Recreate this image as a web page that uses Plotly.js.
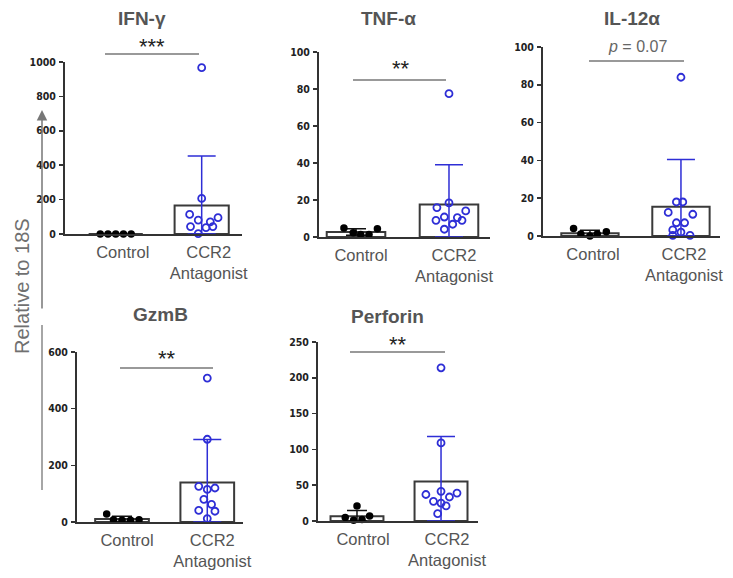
<!DOCTYPE html>
<html><head><meta charset="utf-8">
<script src="https://cdn.plot.ly/plotly-3.0.1.min.js"></script>
<style>html,body{margin:0;padding:0;background:#fff}#chart{width:733px;height:578px}</style>
</head><body><div id="chart"></div>
<script>
// ---------- DATA ----------
const categories = ["Control", "CCR2<br>Antagonist"];
const panelTitles = ["IFN-\u03b3", "TNF-\u03b1", "IL-12\u03b1", "GzmB", "Perforin"];
const sigLabels = ["***", "**", "<i>p</i> = 0.07", "**", "**"];
const yAxisTitle = "Relative to 18S";

// IFN-gamma
const ifnControl = [0, 0, 0, 0, 0];
const ifnControlJitter = [-0.18, -0.09, 0, 0.09, 0.18];
const ifnCCR2 = [967, 207, 114, 81, 71, 95, 43, 37, 43, 2];
const ifnCCR2Jitter = [0, 0, -0.14, -0.04, 0.1, 0.19, -0.13, 0.05, 0.13, -0.04];
const ifnMeans = [0, 166];
const ifnSD = [0, 287];

// TNF-alpha
const tnfControl = [4.9, 2.3, 1.3, 1.3, 4.5];
const tnfControlJitter = [-0.13, -0.03, 0.05, 0.14, 0.23];
const tnfCCR2 = [77.5, 18.4, 15.9, 14.1, 9, 10.8, 10.5, 9, 6.9, 4.2];
const tnfCCR2Jitter = [0, 0, -0.13, 0.18, -0.14, -0.05, 0.09, 0.14, 0.04, -0.05];
const tnfMeans = [2.7, 17.5];
const tnfSD = [1.8, 21.5];

// IL-12alpha
const il12Control = [4, 1, 0, 1, 2.3];
const il12ControlJitter = [-0.18, -0.1, 0, 0.08, 0.18];
const il12CCR2 = [84, 18, 18, 12.5, 11.5, 7, 7, 3.2, 2, 0.3, 0.3];
const il12CCR2Jitter = [0, -0.05, 0.02, -0.14, 0.13, -0.05, 0.04, -0.09, 0, -0.09, 0.1];
const il12Means = [1.4, 15.5];
const il12SD = [1.6, 25];

// GzmB
const gzmbControl = [28, 8, 6, 6, 8];
const gzmbControlJitter = [-0.18, -0.1, 0, 0.1, 0.2];
const gzmbCCR2 = [508, 292, 126, 115, 120, 80, 62, 41, 38, 12];
const gzmbCCR2Jitter = [0, 0, -0.1, 0, 0.09, -0.04, 0.05, -0.1, 0.09, 0];
const gzmbMeans = [11, 139];
const gzmbSD = [9.4, 152];

// Perforin
const perfControl = [21, 5, 1, 2, 7];
const perfControlJitter = [0, -0.14, -0.04, 0.06, 0.15];
const perfCCR2 = [214, 109, 41.5, 37, 39, 27.5, 33.5, 25, 21, 10.3];
const perfCCR2Jitter = [0, 0, 0, -0.18, 0.19, -0.09, 0.1, 0, 0.06, -0.04];
const perfMeans = [6.5, 55];
const perfSD = [8, 63];

const yMax = [1000, 100, 100, 600, 250];
const yStep = [200, 20, 20, 200, 50];

// ---------- LAYOUT CONFIG (pixels) ----------
const W = 733, H = 578;
const fx = x => x / W, fy = y => 1 - y / H;
const panels = [
  {data:[ifnControl, ifnControlJitter, ifnCCR2, ifnCCR2Jitter, ifnMeans, ifnSD],
   box:[65, 242, 62, 234], xr:[-0.59, 1.469], shift:7, title:[142, 19], sig:[152, 46], line:[105, 199, 54]},
  {data:[tnfControl, tnfControlJitter, tnfCCR2, tnfCCR2Jitter, tnfMeans, tnfSD],
   box:[319, 490, 52, 237], xr:[-0.398, 1.441], shift:5, title:[388, 18], sig:[401, 68], line:[353, 446, 80]},
  {data:[il12Control, il12ControlJitter, il12CCR2, il12CCR2Jitter, il12Means, il12SD],
   box:[543, 720, 47, 236], xr:[-0.516, 1.429], shift:3, title:[632, 19], sig:[637, 46], line:[589, 684, 61]},
  {data:[gzmbControl, gzmbControlJitter, gzmbCCR2, gzmbCCR2Jitter, gzmbMeans, gzmbSD],
   box:[77, 243, 352, 522], xr:[-0.528, 1.419], shift:5, title:[160, 314], sig:[167, 358], line:[120, 213, 368]},
  {data:[perfControl, perfControlJitter, perfCCR2, perfCCR2Jitter, perfMeans, perfSD],
   box:[318, 478, 342, 521], xr:[-0.464, 1.44], shift:6, title:[387, 316], sig:[398, 344], line:[350, 445, 352]}
];

const BLUE = '#2e2ed6', DARK = '#333333', GREY = '#555555';
const traces = [];
const layout = {
  width: W, height: H, margin:{l:0, r:0, t:0, b:0},
  paper_bgcolor:'#fff', plot_bgcolor:'rgba(0,0,0,0)',
  showlegend:false, barmode:'overlay',
  font:{family:'Liberation Sans, Arial, sans-serif'},
  shapes:[], annotations:[]
};

panels.forEach((p, i) => {
  const sfx = i === 0 ? '' : String(i + 1);
  const xa = 'x' + sfx, ya = 'y' + sfx;
  const [ctrl, ctrlJ, ccr, ccrJ, means, sds] = p.data;
  const [x0, x1, yTop, yBot] = p.box;
  layout['xaxis' + sfx] = {
    domain:[fx(x0), fx(x1)], range:p.xr, anchor:ya,
    tickvals:[0, 1], ticktext:categories, ticks:'', ticklabelstandoff:2, ticklabelshift:p.shift,
    showline:true, linecolor:DARK, linewidth:2, showgrid:false, zeroline:false,
    tickfont:{size:16.5, color:GREY, family:'Liberation Sans, Arial, sans-serif'}
  };
  layout['yaxis' + sfx] = {
    domain:[fy(yBot), fy(yTop)], range:[0, yMax[i]], dtick:yStep[i], tick0:0, anchor:xa,
    ticks:'outside', ticklen:4, tickwidth:1.5, tickcolor:DARK, ticklabelstandoff:1,
    showline:true, linecolor:DARK, linewidth:2, showgrid:false, zeroline:false,
    tickfont:{size:10.5, color:'#222', weight:700, family:'DejaVu Sans Condensed, Liberation Sans Narrow, sans-serif'}
  };
  const errColors = ['#111', BLUE];
  [0, 1].forEach(k => {
    traces.push({
      type:'bar', x:[k], y:[means[k]], width:[0.63], xaxis:xa, yaxis:ya,
      marker:{color:'rgba(255,255,255,0)', line:{color:'#3a3a3a', width:2}},
      error_y:{type:'data', symmetric:false, array:[sds[k]], arrayminus:[Math.min(sds[k], means[k])],
               color:errColors[k], thickness:1.5, width:k ? 14 : 10},
      hoverinfo:'skip'
    });
  });
  traces.push({
    type:'scatter', mode:'markers', x:ctrlJ.map(j => 0 + j), y:ctrl, xaxis:xa, yaxis:ya,
    cliponaxis:false, marker:{color:'#000', size:7.5, symbol:'circle'}
  });
  traces.push({
    type:'scatter', mode:'markers', x:ccrJ.map(j => 1 + j), y:ccr, xaxis:xa, yaxis:ya,
    cliponaxis:false, marker:{color:BLUE, size:7, symbol:'circle-open', line:{color:BLUE, width:1.8}}
  });
  // title
  layout.annotations.push({
    xref:'paper', yref:'paper', x:fx(p.title[0]), y:fy(p.title[1]), xanchor:'center', yanchor:'middle',
    showarrow:false, text:'<b>' + panelTitles[i] + '</b>',
    font:{size:19, color:GREY, family:'Liberation Sans, Arial, sans-serif'}
  });
  // significance
  const isP = sigLabels[i].indexOf('p') >= 0;
  layout.annotations.push({
    xref:'paper', yref:'paper', x:fx(p.sig[0]), y:fy(p.sig[1]), xanchor:'center', yanchor:'middle',
    showarrow:false, text:sigLabels[i],
    font: isP ? {size:16, color:'#666', family:'Liberation Sans, Arial, sans-serif'}
              : {size:22, color:'#222', family:'Liberation Sans, Arial, sans-serif'}
  });
  layout.shapes.push({
    type:'line', xref:'paper', yref:'paper',
    x0:fx(p.line[0]), x1:fx(p.line[1]), y0:fy(p.line[2]), y1:fy(p.line[2]),
    line:{color:'#777', width:1.5}
  });
});

// common y label and arrow
layout.annotations.push({
  xref:'paper', yref:'paper', x:fx(22), y:fy(286), xanchor:'center', yanchor:'middle',
  showarrow:false, textangle:-90,
  text:yAxisTitle, font:{size:20, color:'#707070', family:'Liberation Sans, Arial, sans-serif'}
});
layout.annotations.push({
  xref:'paper', yref:'paper', x:fx(42), y:fy(110), ax:0, ay:200, text:'',
  showarrow:true, arrowhead:2, arrowsize:1.4, arrowwidth:1.5, arrowcolor:'#777', standoff:0
});
layout.shapes.push({
  type:'line', xref:'paper', yref:'paper', x0:fx(42), x1:fx(42), y0:fy(325), y1:fy(490),
  line:{color:'#888', width:1.5}
});

Plotly.newPlot('chart', traces, layout, {staticPlot:true, displayModeBar:false});
</script></body></html>
